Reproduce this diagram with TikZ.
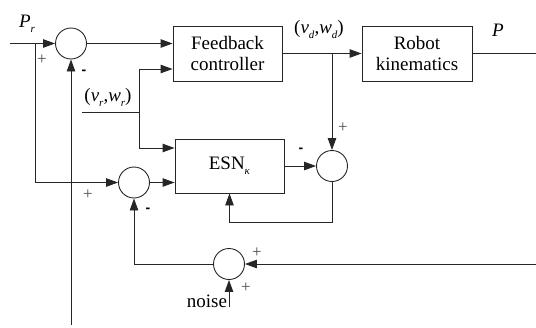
\documentclass[tikz,border=0pt]{standalone}
\usepackage{fontspec}
\setmainfont{Liberation Serif}
\newfontfamily\sgnfont{Liberation Sans}
\usetikzlibrary{arrows.meta}
\newcommand\lowsub[1]{\raisebox{-5pt}{\fontsize{11}{11}\selectfont\textit{#1}}}
\tikzset{
  sum/.style={circle,draw=black!85,line width=0.9pt,minimum size=31pt,inner sep=0pt},
  blk/.style={draw=black!85,line width=0.9pt,minimum width=109pt,minimum height=55pt,inner sep=0pt,align=center,font=\fontsize{19}{21}\selectfont},
  wire/.style={draw=black!85,line width=0.9pt},
  arr/.style={wire,-{Triangle[length=12pt,width=8.5pt]}},
  lbl/.style={inner sep=0pt,font=\fontsize{19}{21}\selectfont},
  plus/.style={inner sep=0pt,text=black!70,font=\fontsize{17}{17}\selectfont},
  minus/.style={inner sep=0pt,font=\sgnfont\bfseries\fontsize{14}{14}\selectfont},
}
\begin{document}
\begin{tikzpicture}[x=1pt,y=-1pt]
\useasboundingbox (0,0) rectangle (536,327);
% summing junctions
\node[sum] (s1) at (71,43.5) {};
\node[sum] (s2) at (134,182.5) {};
\node[sum] (s3) at (332,166) {};
\node[sum] (s4) at (229,264) {};
% blocks
\node[blk] (fb) at (227.5,53.5) {Feedback\\controller};
\node[blk,minimum height=54pt] (esn) at (229.5,166) {ESN\lowsub{κ}};
\node[blk,minimum width=110pt] (rk) at (417,53.5) {Robot\\kinematics};
% free ends
\coordinate (in) at (10,43.5);
\coordinate (br1) at (35,43.5);
\coordinate (vrs) at (82,112);
\coordinate (vrj) at (139,112);
\coordinate (jd) at (332,53.5);
\coordinate (out) at (536,53.5);
\coordinate (lpc) at (332,222);
\coordinate (nr) at (536,264);
\coordinate (nb) at (229,307);
\coordinate (bot) at (71,325);
% connectors
\draw[arr] (in) -- (s1.west);
\draw[arr] (br1) |- (s2.west);
\draw[arr] (s1.east) -- (fb.west |- s1);
\draw[wire] (vrs) -- (vrj);
\draw[arr] (vrj) |- ([yshift=-15.5pt]fb.west);
\draw[arr] (vrj) |- ([yshift=18pt]esn.west);
\draw[arr] (s2.east) -- (esn.west |- s2);
\draw[arr] (esn.east) -- (s3.west);
\draw[wire] (fb.east) -- (jd);
\draw[arr] (jd) -- (rk.west);
\draw[arr] (jd) -- (s3.north);
\draw[wire] (rk.east) -- (out);
\draw[arr] (s3.south) -- (lpc) -| (esn.south);
\draw[arr] (nr) -- (s4.east);
\draw[arr] (nb) -- (s4.south);
\draw[arr] (s4.west) -| (s2.south);
\draw[arr] (bot) -- (s1.south);
% labels
\node[lbl] (lpr) at (27,24) {\textit{P}\lowsub{r}};
\node[lbl] (lvr) at (108,97) {(\textit{v}\lowsub{r},\textit{w}\lowsub{r})};
\node[lbl] (lvd) at (319,29) {(\textit{v}\lowsub{d},\textit{w}\lowsub{d})};
\node[lbl] (lP) at (498,30) {\textit{P}};
\node[lbl] (lnoise) at (207,301) {noise};
\node[plus] (p1) at (42,60) {+};
\node[minus] (m1) at (84,72) {-};
\node[plus] (p2) at (88,195) {+};
\node[minus] (m2) at (148,210) {-};
\node[plus] (p3) at (343,128) {+};
\node[minus] (m3) at (301,150) {-};
\node[plus] (p4) at (257,253) {+};
\node[plus] (p5) at (246,288) {+};
\end{tikzpicture}
\end{document}
